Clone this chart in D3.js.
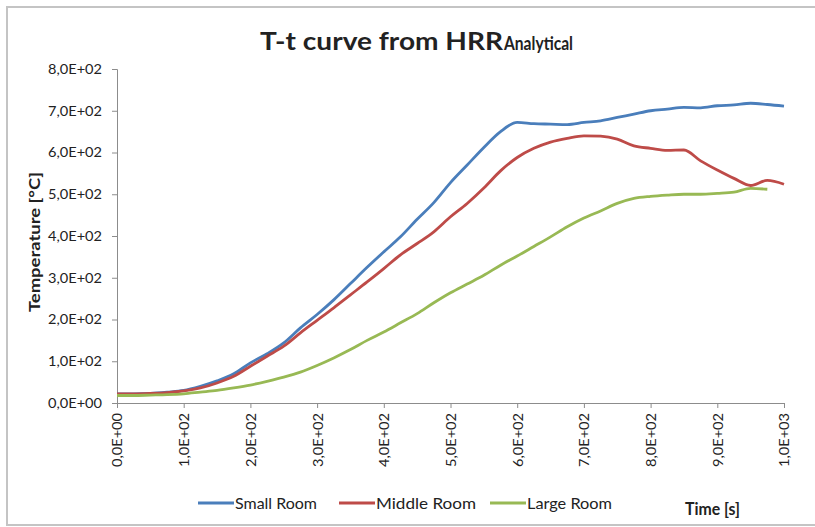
<!DOCTYPE html>
<html>
<head>
<meta charset="utf-8">
<script src="https://cdn.jsdelivr.net/npm/d3@7"></script>
<style>
  html, body { margin: 0; padding: 0; background: #fff; }
  svg { display: block; }
  text { font-family: Lato, "Open Sans", sans-serif; fill: #222; }
</style>
</head>
<body>
<svg id="chart" width="815" height="527"></svg>
<script>
// ---- data ----
const times = [0,25,50,75,100,125,150,175,200,225,250,275,300,325,350,375,400,425,450,475,500,
  525,550,575,600,625,650,675,700,725,750,775,800,825,850,875,900,925,950,975,1000];
const smallRoom = [22,22,23,26,30,40,53,70,96,118,144,180,212,247,286,325,362,398,440,480,528,
  570,612,650,672,669,668,667,672,676,684,692,700,704,708,707,712,714,718,715,711];
const middleRoom = [22,22,23,25,29,36,48,64,88,112,136,168,198,228,259,290,322,355,382,410,446,
  478,515,556,588,610,625,634,640,639,632,616,610,605,606,580,558,538,521,533,524];
const largeRoom = [18,18,19,20,22,26,30,36,43,52,62,74,90,108,128,150,170,192,214,240,264,
  285,306,330,352,375,398,422,443,460,478,490,495,498,500,500,502,505,514,512,null];
const seriesNames = ["Small Room", "Middle Room", "Large Room"];
const seriesColors = ["#4a7ebb", "#be4b48", "#98b954"];
const yTicks = [0,100,200,300,400,500,600,700,800];
const xTicks = [0,100,200,300,400,500,600,700,800,900,1000];
const titleMain = "T-t curve from HRR";
const titleSub = "Analytical";
const yLabel = "Temperature [°C]";
const xLabel = "Time [s]";

// ---- layout ----
const svg = d3.select("#chart");
const margin = {left: 117, right: 31, top: 69, bottom: 124};
const W = 815, H = 527;
const x = d3.scaleLinear().domain([0, 1000]).range([margin.left, W - margin.right]);
const y = d3.scaleLinear().domain([0, 800]).range([H - margin.bottom, margin.top]);

// outer frame
svg.append("rect").attr("x", 7).attr("y", 7).attr("width", 830).attr("height", 518)
  .attr("fill", "none").attr("stroke", "#c4c4c4").attr("stroke-width", 2);

// sci format with comma decimal
const fmt = v => {
  if (v === 0) return "0,0E+00";
  const e = Math.floor(Math.log10(v));
  const m = v / Math.pow(10, e);
  return m.toFixed(1).replace(".", ",") + "E+" + String(e).padStart(2, "0");
};

// y axis
const yAxis = svg.append("g").attr("transform", `translate(${margin.left},0)`)
  .call(d3.axisLeft(y).tickValues(yTicks).tickFormat(fmt).tickSize(5).tickPadding(10));
yAxis.selectAll("path, line").attr("stroke", "#8c8c8c");
yAxis.selectAll("text").style("font-size", "14px").style("font-family", "Lato, sans-serif")
  .attr("fill", "#333").attr("textLength", 54).attr("lengthAdjust", "spacingAndGlyphs");

// x axis
const xAxis = svg.append("g").attr("transform", `translate(0,${y(0)})`)
  .call(d3.axisBottom(x).tickValues(xTicks).tickFormat(fmt).tickSize(5).tickPadding(4));
xAxis.selectAll("path, line").attr("stroke", "#8c8c8c");
xAxis.selectAll("text")
  .style("font-size", "14px").style("font-family", "Lato, sans-serif").attr("fill", "#333")
  .attr("text-anchor", "end")
  .attr("transform", "rotate(-90)")
  .attr("x", -10).attr("y", 0).attr("dy", "0.35em")
  .attr("textLength", 54).attr("lengthAdjust", "spacingAndGlyphs");

// lines
const allSeries = [smallRoom, middleRoom, largeRoom];
const line = d3.line()
  .defined(d => d[1] !== null)
  .x(d => x(d[0])).y(d => y(d[1]))
  .curve(d3.curveMonotoneX);
allSeries.forEach((vals, i) => {
  svg.append("path")
    .datum(times.map((t, j) => [t, vals[j]]))
    .attr("fill", "none")
    .attr("stroke", seriesColors[i])
    .attr("stroke-width", 2.8)
    .attr("stroke-linejoin", "round")
    .attr("d", line);
});

// title
svg.append("text").attr("x", 260).attr("y", 50)
  .style("font-size", "25px").style("font-weight", "bold").attr("fill", "#111")
  .attr("textLength", 243).attr("lengthAdjust", "spacingAndGlyphs")
  .text(titleMain);
svg.append("text").attr("x", 504).attr("y", 50)
  .style("font-size", "18px").style("font-weight", "bold").attr("fill", "#111")
  .attr("textLength", 69).attr("lengthAdjust", "spacingAndGlyphs")
  .text(titleSub);

// y label
svg.append("text")
  .attr("transform", `translate(40,242) rotate(-90)`)
  .attr("text-anchor", "middle")
  .style("font-size", "15px").style("font-weight", "bold")
  .attr("textLength", 140).attr("lengthAdjust", "spacingAndGlyphs")
  .text(yLabel);

// x label
svg.append("text").attr("x", 685).attr("y", 515)
  .style("font-size", "16.5px").style("font-weight", "bold")
  .attr("textLength", 55).attr("lengthAdjust", "spacingAndGlyphs")
  .text(xLabel);

// legend
const legendX = [198, 339, 490];
const legendW = [82, 100, 85];
seriesNames.forEach((name, i) => {
  const g = svg.append("g").attr("transform", `translate(${legendX[i]},503)`);
  g.append("line").attr("x1", 0).attr("x2", 36).attr("y1", 0).attr("y2", 0)
    .attr("stroke", seriesColors[i]).attr("stroke-width", 3);
  g.append("text").attr("x", 37).attr("y", 5.5)
    .style("font-size", "15px").attr("fill", "#333")
    .attr("textLength", legendW[i]).attr("lengthAdjust", "spacingAndGlyphs")
    .text(name);
});
</script>
</body>
</html>
